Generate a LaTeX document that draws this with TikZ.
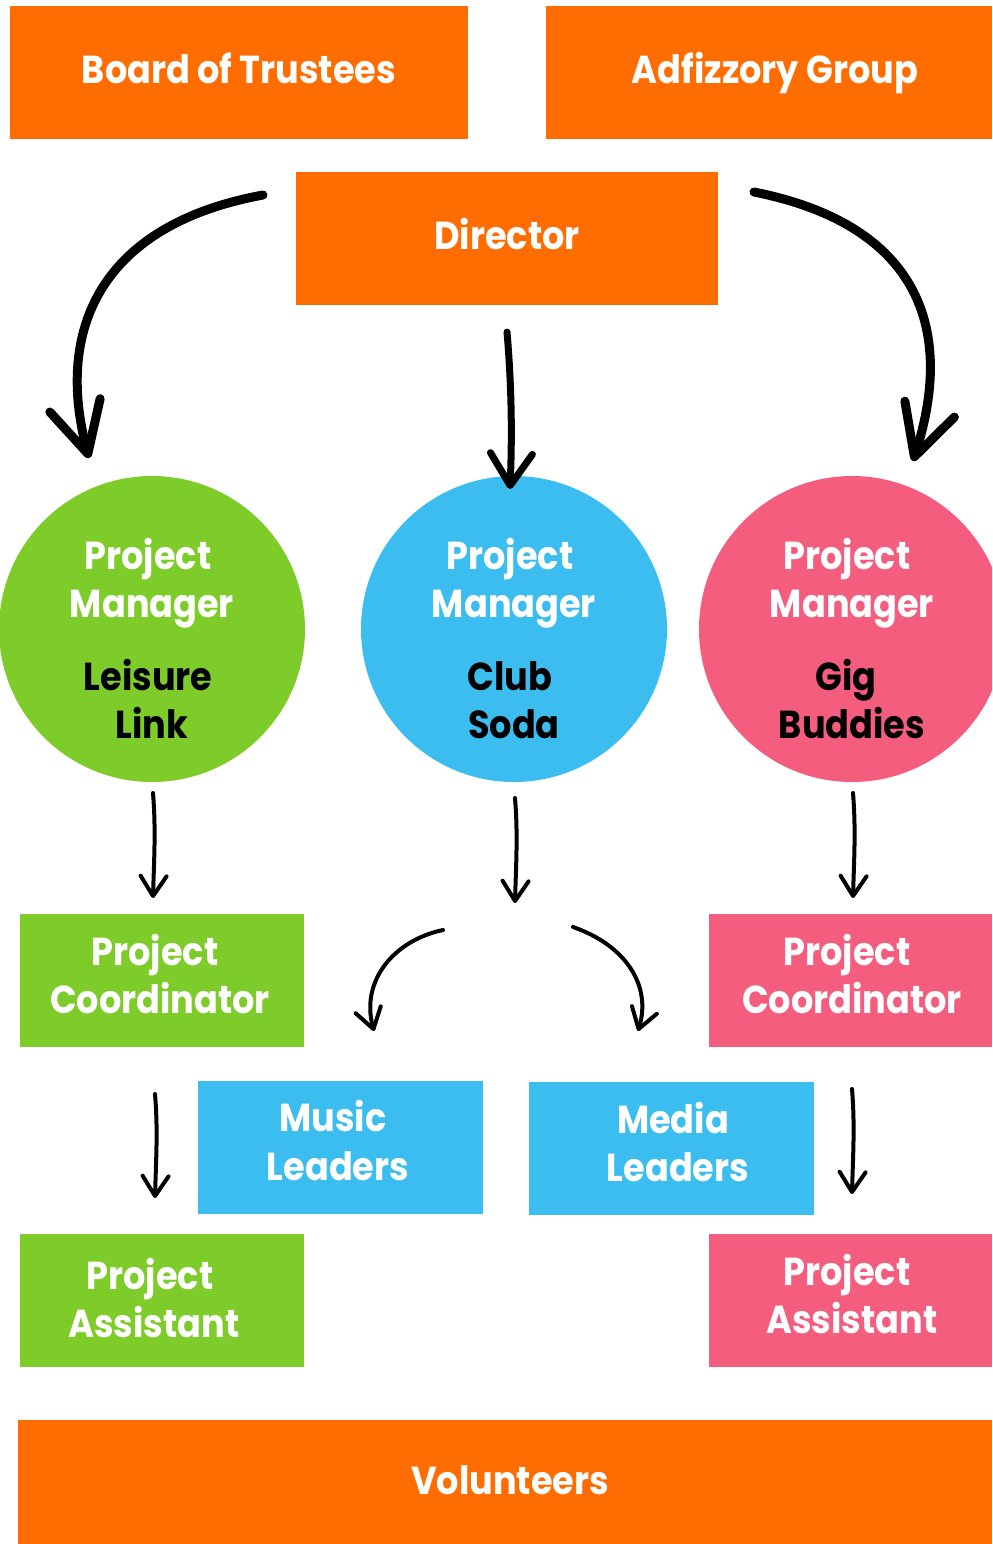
\documentclass[tikz,border=0pt]{standalone}
\usepackage{fontspec}
\setmainfont{Poppins}[FakeStretch=0.9]
\usetikzlibrary{arrows.meta}
\definecolor{orng}{HTML}{FF6D00}
\definecolor{grn}{HTML}{7ECC29}
\definecolor{blu}{HTML}{3BBEEF}
\definecolor{pnk}{HTML}{F45D7E}
\begin{document}
\begin{tikzpicture}[x=0.5pt,y=-0.5pt,
  box/.style={draw=none, inner sep=0pt, minimum height=66.5pt},
  lbl/.style={text=white, inner sep=0pt, anchor=base, font=\fontsize{19.5}{24}\selectfont\bfseries},
  dlbl/.style={text=black, inner sep=0pt, anchor=base, font=\fontsize{19.5}{24}\selectfont\bfseries},
  circ/.style={circle, draw=none, inner sep=0pt, minimum size=153pt},
  big/.style={line width=4.5pt, line cap=round, line join=round, -{Straight Barb[length=25pt,width=26pt,line cap=round,line join=round]}},
  mid/.style={line width=3.5pt, line cap=round, line join=round, -{Straight Barb[length=16pt,width=21pt,line cap=round,line join=round]}},
  small/.style={line width=2pt, line cap=round, line join=round, -{Straight Barb[length=10pt,width=13pt,line cap=round,line join=round]}}
]
\clip (0,0) rectangle (992,1544);
\useasboundingbox (0,0) rectangle (992,1544);
\fill[white] (0,0) rectangle (992,1544);

% boxes
\node[box, fill=orng, minimum width=229pt] (bot) at (239,72.5) {};
\node[box, fill=orng, minimum width=223pt] (adv) at (769,72.5) {};
\node[box, fill=orng, minimum width=211pt] (dir) at (507,238.5) {};
\node[box, fill=grn, minimum width=142pt] (pcg) at (162,980.5) {};
\node[box, fill=pnk, minimum width=141.5pt] (pcp) at (850.5,980.5) {};
\node[box, fill=blu, minimum width=142.5pt] (mus) at (340.5,1147.5) {};
\node[box, fill=blu, minimum width=142.5pt] (med) at (671.5,1148.5) {};
\node[box, fill=grn, minimum width=142pt] (pag) at (162,1300.5) {};
\node[box, fill=pnk, minimum width=141.5pt] (pap) at (850.5,1300) {};
\node[box, fill=orng, minimum width=487pt, minimum height=62pt] (vol) at (505,1482) {};

% circles
\node[circ, fill=grn] (pmg) at (152,629) {};
\node[circ, fill=blu] (pmb) at (514,629) {};
\node[circ, fill=pnk] (pmp) at (852,629) {};

% labels
\node[lbl] (tbot) at (239,83) {Board of Trustees};
\node[lbl] (tadv) at (775,83) {Adfizzory Group};
\node[lbl] (tdir) at (507,249) {Director};
\node[lbl] (tvol) at (510,1494) {Volunteers};

\node[lbl] (g1) at (148,569) {Project};
\node[lbl] (g2) at (152,617) {Manager};
\node[dlbl] (g3) at (148,690) {Leisure};
\node[dlbl] (g4) at (152,738) {Link};
\node[lbl] (b1) at (510,569) {Project};
\node[lbl] (b2) at (514,617) {Manager};
\node[dlbl] (b3) at (510,690) {Club};
\node[dlbl] (b4) at (514,738) {Soda};
\node[lbl] (p1) at (847,569) {Project};
\node[lbl] (p2) at (852,617) {Manager};
\node[dlbl] (p3) at (846,690) {Gig};
\node[dlbl] (p4) at (852,738) {Buddies};

\node[lbl] (c1) at (155,965) {Project};
\node[lbl] (c2) at (160,1013) {Coordinator};
\node[lbl] (c3) at (847,965) {Project};
\node[lbl] (c4) at (852,1013) {Coordinator};
\node[lbl] (m1) at (333,1131) {Music};
\node[lbl] (m2) at (338,1180) {Leaders};
\node[lbl] (e1) at (673,1133) {Media};
\node[lbl] (e2) at (678,1181) {Leaders};
\node[lbl] (a1) at (150,1289) {Project};
\node[lbl] (a2) at (154,1337) {Assistant};
\node[lbl] (a3) at (847,1285) {Project};
\node[lbl] (a4) at (852,1333) {Assistant};

% arrow end coordinates
\coordinate (s1) at (263,195);
\coordinate (e1x) at (89,458);
\coordinate (s2) at (507,332);
\coordinate (e2x) at (510,489);
\coordinate (s3) at (754,192);
\coordinate (e3x) at (913,461);
\coordinate (s4) at (153,793);
\coordinate (e4x) at (153,898);
\coordinate (s5) at (515,798);
\coordinate (e5x) at (515,903);
\coordinate (s6) at (853,793);
\coordinate (e6x) at (853,898);
\coordinate (s7) at (443,930);
\coordinate (e7x) at (374,1031);
\coordinate (s8) at (573,927);
\coordinate (e8x) at (638,1031);
\coordinate (s9) at (155,1094);
\coordinate (e9x) at (155,1198);
\coordinate (s10) at (852,1089);
\coordinate (e10x) at (852,1194);

\draw[big] (s1) .. controls (100,225) and (55,330) .. (e1x);
\draw[mid] (s2) .. controls (512,390) and (512,440) .. (e2x);
\draw[big] (s3) .. controls (920,225) and (955,330) .. (e3x);
\draw[small] (s4) .. controls (156,830) and (154,860) .. (e4x);
\draw[small] (s5) .. controls (518,835) and (516,865) .. (e5x);
\draw[small] (s6) .. controls (856,830) and (854,860) .. (e6x);
\draw[small] (s7) .. controls (395,940) and (360,980) .. (e7x);
\draw[small] (s8) .. controls (625,945) and (652,985) .. (e8x);
\draw[small] (s9) .. controls (158,1130) and (156,1160) .. (e9x);
\draw[small] (s10) .. controls (855,1125) and (853,1155) .. (e10x);
\end{tikzpicture}
\end{document}
